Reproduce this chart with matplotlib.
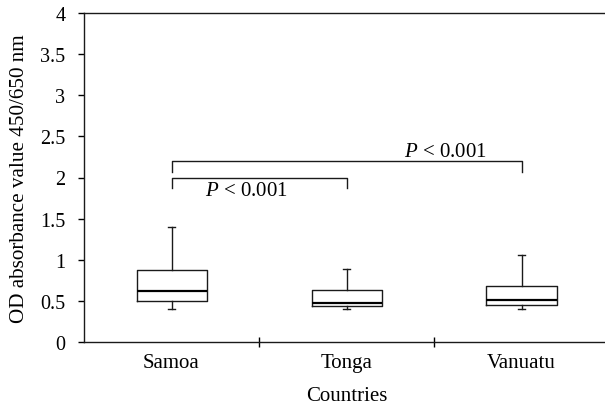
import matplotlib
matplotlib.use("Agg")
import matplotlib.pyplot as plt

countries = ["Samoa", "Tonga", "Vanuatu"]
whisker_low = [0.40, 0.40, 0.40]
q1 = [0.50, 0.44, 0.45]
median = [0.62, 0.48, 0.515]
q3 = [0.875, 0.632, 0.68]
whisker_high = [1.40, 0.887, 1.06]
yticks = [0, 0.5, 1, 1.5, 2, 2.5, 3, 3.5, 4]
ytick_labels = ["0", "0.5", "1", "1.5", "2", "2.5", "3", "3.5", "4"]
comparisons = [(1, 2, 2.0, "$\\it{P}$ < 0.001"), (1, 3, 2.2, "$\\it{P}$ < 0.001")]

plt.rcParams['font.family'] = ['Liberation Serif', 'DejaVu Serif']
plt.rcParams['mathtext.fontset'] = 'custom'
plt.rcParams['mathtext.it'] = 'Liberation Serif:italic'
plt.rcParams['mathtext.rm'] = 'Liberation Serif'

W, H = 605, 406
fig = plt.figure(figsize=(W / 100, H / 100), dpi=100)
ax = fig.add_axes([84 / W, (H - 343) / H, (609 - 84) / W, (343 - 14) / H])

stats = []
for i, c in enumerate(countries):
    stats.append(dict(label=c, whislo=whisker_low[i], q1=q1[i], med=median[i],
                      q3=q3[i], whishi=whisker_high[i], fliers=[]))
ax.bxp(stats, positions=[1, 2, 3], widths=0.4, showfliers=False,
       boxprops=dict(color="#1a1a1a", linewidth=1.0),
       medianprops=dict(color="black", linewidth=1.6),
       whiskerprops=dict(color="#1a1a1a", linewidth=1.0),
       capprops=dict(color="#1a1a1a", linewidth=1.0),
       capwidths=0.035)

for x1, x2, yb, txt in comparisons:
    drop = 0.13
    ax.plot([x1, x1, x2, x2], [yb - drop, yb, yb, yb - drop], color="#1a1a1a", lw=1.0)

ax.text(1.43, 1.84, comparisons[0][3], fontsize=15, ha="center", va="center")
ax.text(2.563, 2.32, comparisons[1][3], fontsize=15, ha="center", va="center")

ax.set_xlim(0.5, 3.5)
ax.set_ylim(0, 4)
ax.set_yticks(yticks)
ax.set_yticklabels(ytick_labels)
ax.set_xticks([1, 2, 3])
ax.set_xticklabels(countries)
ax.set_xticks([1.5, 2.5], minor=True)
ax.tick_params(axis="x", which="major", length=0, labelsize=15, pad=8)
ax.tick_params(axis="x", which="minor", length=7, direction="inout", width=1)
ax.tick_params(axis="y", length=4.5, direction="out", labelsize=14.5, pad=9, width=1)
for s in ["left", "bottom", "top"]:
    ax.spines[s].set_linewidth(1.0)
    ax.spines[s].set_color("#1a1a1a")
ax.spines["right"].set_visible(False)
ax.set_xlabel("Countries", fontsize=15, labelpad=10)
ax.set_ylabel("OD absorbance value 450/650 nm", fontsize=15.2, labelpad=8)

fig.savefig("out.png", dpi=100)
